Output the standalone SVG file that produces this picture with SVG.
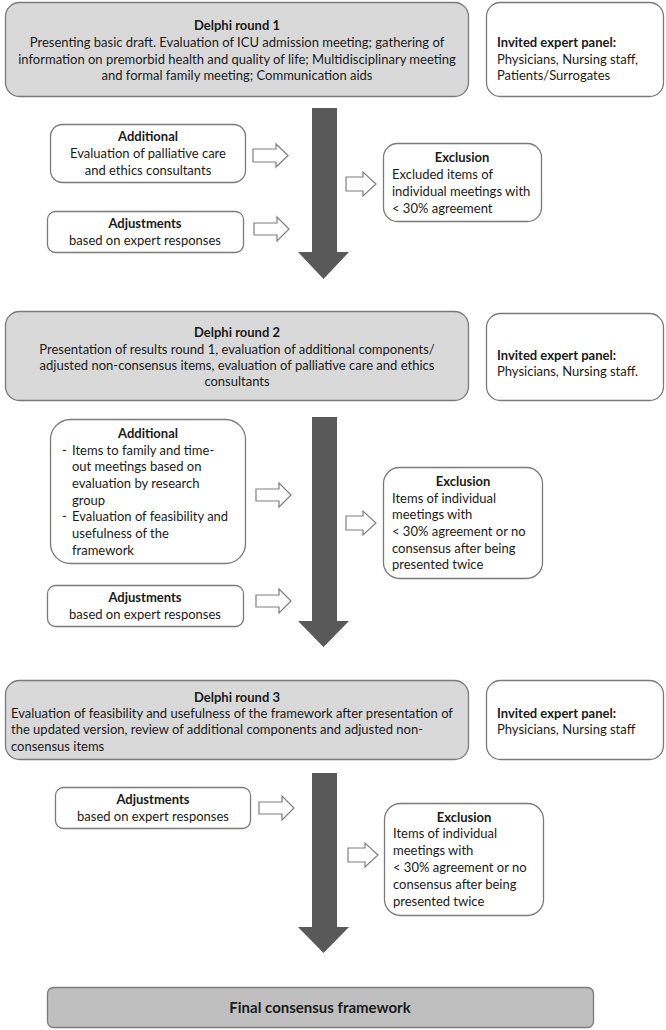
<svg xmlns="http://www.w3.org/2000/svg" width="666" height="1030" viewBox="0 0 666 1030">
<style>
text{font-family:Lato,"Open Sans","Liberation Sans",sans-serif;font-size:13px;fill:#1a1a1a}
.b{font-weight:bold}
.c{text-anchor:middle}
.g{fill:#d9d9d9;stroke:#7a7a7a;stroke-width:1.3}
.w{fill:#fff;stroke:#7a7a7a;stroke-width:1.3}
.f{fill:#bfbfbf;stroke:#7a7a7a;stroke-width:1.3}
.big{fill:#595959}
.hol{fill:#fff;stroke:#7f7f7f;stroke-width:1.2}
</style>
<rect width="666" height="1030" fill="#fff"/>
<g id="connectors">
<path class="big" d="M312,108H337V252H349L323.5,279L298,252H312Z"/>
<path class="big" d="M312,417H337V621H349L323.5,647L298,621H312Z"/>
<path class="big" d="M312,773H337V927H349L323.5,953L298,927H312Z"/>
<path class="hol" d="M253,149H276V144L288,155.5L276,167V162H253Z"/>
<path class="hol" d="M254,223H277V217L289,229L277,241V235H254Z"/>
<path class="hol" d="M346,177H363V172L376,184L363,196V191H346Z"/>
<path class="hol" d="M256,489H279V483L291,495L279,507V501H256Z"/>
<path class="hol" d="M256,595H279V589L291,601L279,613V607H256Z"/>
<path class="hol" d="M346,516H363V511L376,523L363,535V530H346Z"/>
<path class="hol" d="M259,802H282V796L294,808L282,820V814H259Z"/>
<path class="hol" d="M348,848H365V843L378,855L365,867V862H348Z"/>
</g>
<g id="round1">
<rect class="g" x="5.5" y="2.5" width="463" height="94" rx="14"/>
<text class="b c" x="237" y="30">Delphi round 1</text>
<text class="c" x="237" y="47">Presenting basic draft. Evaluation of ICU admission meeting; gathering of</text>
<text class="c" x="237" y="64">information on premorbid health and quality of life; Multidisciplinary meeting</text>
<text class="c" x="237" y="80">and formal family meeting; Communication aids</text>
</g>
<g id="panel1">
<rect class="w" x="486.5" y="2.5" width="177" height="94" rx="14"/>
<text class="b" x="497" y="47">Invited expert panel:</text>
<text x="497" y="64">Physicians, Nursing staff,</text>
<text x="497" y="80">Patients/Surrogates</text>
</g>
<g id="additional1">
<rect class="w" x="50.5" y="124.5" width="195" height="58" rx="12"/>
<text class="b c" x="148" y="141">Additional</text>
<text class="c" x="148" y="158">Evaluation of palliative care</text>
<text class="c" x="148" y="175">and ethics consultants</text>
</g>
<g id="adjust1">
<rect class="w" x="47.5" y="211.5" width="196" height="41" rx="8"/>
<text class="b c" x="145" y="227.5">Adjustments</text>
<text class="c" x="145" y="244.5">based on expert responses</text>
</g>
<g id="exclusion1">
<rect class="w" x="383.5" y="143.5" width="158" height="78" rx="14"/>
<text class="b c" x="462" y="161.5">Exclusion</text>
<text x="392" y="178.5">Excluded items of</text>
<text x="392" y="195.5">individual meetings with</text>
<text x="392" y="212.5">&lt; 30% agreement</text>
</g>
<g id="round2">
<rect class="g" x="5.5" y="311.5" width="463" height="89" rx="14"/>
<text class="b c" x="237" y="336.5">Delphi round 2</text>
<text class="c" x="237" y="353.5">Presentation of results round 1, evaluation of additional components/</text>
<text class="c" x="237" y="369.5">adjusted non-consensus items, evaluation of palliative care and ethics</text>
<text class="c" x="237" y="385.5">consultants</text>
</g>
<g id="panel2">
<rect class="w" x="486.5" y="313.5" width="177" height="87" rx="14"/>
<text class="b" x="497" y="359.5">Invited expert panel:</text>
<text x="497" y="375.5">Physicians, Nursing staff.</text>
</g>
<g id="additional2">
<rect class="w" x="50.5" y="419.5" width="195" height="144" rx="20"/>
<text class="b c" x="148" y="437.5">Additional</text>
<text x="62" y="454.5">-</text><text x="72" y="454.5">Items to family and time-</text>
<text x="72" y="471">out meetings based on</text>
<text x="72" y="487.5">evaluation by research</text>
<text x="72" y="504.5">group</text>
<text x="62" y="521">-</text><text x="72" y="521">Evaluation of feasibility and</text>
<text x="72" y="537.5">usefulness of the</text>
<text x="72" y="554.5">framework</text>
</g>
<g id="exclusion2">
<rect class="w" x="383.5" y="467.5" width="159" height="111" rx="16"/>
<text class="b c" x="463" y="485.5">Exclusion</text>
<text x="392" y="502.5">Items of individual</text>
<text x="392" y="519">meetings with</text>
<text x="392" y="535.5">&lt; 30% agreement or no</text>
<text x="392" y="552.5">consensus after being</text>
<text x="392" y="569">presented twice</text>
</g>
<g id="adjust2">
<rect class="w" x="47.5" y="585.5" width="196" height="41" rx="8"/>
<text class="b c" x="145" y="601.5">Adjustments</text>
<text class="c" x="145" y="618.5">based on expert responses</text>
</g>
<g id="round3">
<rect class="g" x="5.5" y="680.5" width="463" height="79" rx="14"/>
<text class="b c" x="237" y="701.5">Delphi round 3</text>
<text x="11" y="717.5">Evaluation of feasibility and usefulness of the framework after presentation of</text>
<text x="11" y="733.5">the updated version, review of additional components and adjusted non-</text>
<text x="11" y="750.5">consensus items</text>
</g>
<g id="panel3">
<rect class="w" x="486.5" y="680.5" width="177" height="79" rx="14"/>
<text class="b" x="497" y="717.5">Invited expert panel:</text>
<text x="497" y="733.5">Physicians, Nursing staff</text>
</g>
<g id="adjust3">
<rect class="w" x="55.5" y="787.5" width="195" height="41" rx="8"/>
<text class="b c" x="153" y="803.5">Adjustments</text>
<text class="c" x="153" y="820.5">based on expert responses</text>
</g>
<g id="exclusion3">
<rect class="w" x="384.5" y="803.5" width="159" height="112" rx="16"/>
<text class="b c" x="464" y="821.5">Exclusion</text>
<text x="393" y="837.5">Items of individual</text>
<text x="393" y="854.5">meetings with</text>
<text x="393" y="871.5">&lt; 30% agreement or no</text>
<text x="393" y="888.5">consensus after being</text>
<text x="393" y="905.5">presented twice</text>
</g>
<g id="final">
<rect class="f" x="47.5" y="987.5" width="546" height="40" rx="6"/>
<text class="b c" x="320" y="1013" style="font-size:15px">Final consensus framework</text>
</g>
</svg>
